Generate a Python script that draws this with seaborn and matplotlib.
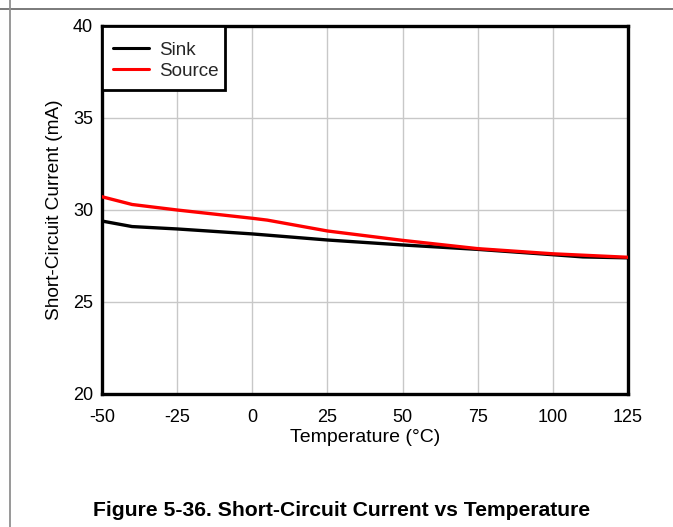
import matplotlib
matplotlib.use("Agg")
import matplotlib.pyplot as plt
from matplotlib.lines import Line2D
from matplotlib.patches import Rectangle
import seaborn as sns
import pandas as pd

sink_temp = [-50, -40, -25, 0, 25, 50, 75, 100, 110, 125]
sink_current = [29.4, 29.1, 28.97, 28.7, 28.37, 28.1, 27.86, 27.57, 27.45, 27.4]
source_temp = [-50, -40, -25, 0, 5, 25, 50, 75, 100, 125]
source_current = [30.72, 30.3, 30.0, 29.55, 29.45, 28.86, 28.35, 27.9, 27.62, 27.43]
x_ticks = [-50, -25, 0, 25, 50, 75, 100, 125]
y_ticks = [20, 25, 30, 35, 40]

df = pd.concat([
    pd.DataFrame({"Temperature": sink_temp, "Current": sink_current, "Series": "Sink"}),
    pd.DataFrame({"Temperature": source_temp, "Current": source_current, "Series": "Source"}),
])

sns.set_theme(style="white")
plt.rcParams["font.family"] = ["Liberation Sans", "DejaVu Sans"]

fig = plt.figure(figsize=(6.73, 5.27), dpi=100)
ax = fig.add_axes([102/673, 1 - 394/527, 526/673, 368/527])

sns.lineplot(data=df, x="Temperature", y="Current", hue="Series",
             palette={"Sink": "#000000", "Source": "#ff0000"}, linewidth=2.4,
             ax=ax, zorder=3)

ax.set_xlim(-50, 125)
ax.set_ylim(20, 40)
ax.set_xticks(x_ticks)
ax.set_yticks(y_ticks)
ax.set_xticklabels([str(t) for t in x_ticks], fontsize=13)
ax.set_yticklabels([str(t) for t in y_ticks], fontsize=13)
ax.tick_params(axis="x", length=0, pad=11, colors="black")
ax.tick_params(axis="y", length=0, pad=6.5, colors="black")
ax.grid(True, color="#c8c8c8", linewidth=1)
for s in ax.spines.values():
    s.set_color("black")
    s.set_linewidth(2.4)
ax.set_xlabel("Temperature (°C)", fontsize=14, labelpad=2, color="black")
ax.set_ylabel("Short-Circuit Current (mA)", fontsize=13.7, labelpad=7, color="black")

# legend frame box
ax.add_patch(Rectangle((0, 1), 123/526, -64/368, transform=ax.transAxes,
                       facecolor="white", edgecolor="black", linewidth=2,
                       zorder=4, clip_on=False))
leg = ax.legend(loc="upper left", bbox_to_anchor=(1/526, 1 - 6/368), fontsize=13.6,
                frameon=False, borderaxespad=0, handlelength=1.9,
                handletextpad=0.55, borderpad=0.52, labelspacing=0.2)
leg.set_zorder(5)
for h in leg.get_lines():
    h.set_linewidth(2.2)

fig.text(342/673, 1 - 511/527,
         "Figure 5-36. Short-Circuit Current vs Temperature",
         ha="center", va="center", fontsize=15.2, fontweight="bold", color="black")

fig.add_artist(Line2D([0, 1], [1 - 8.5/527, 1 - 8.5/527], color="#707070", linewidth=1.3))
fig.add_artist(Line2D([9.5/673, 9.5/673], [0, 1], color="#909090", linewidth=1.3))

fig.savefig("out.png", dpi=100)
